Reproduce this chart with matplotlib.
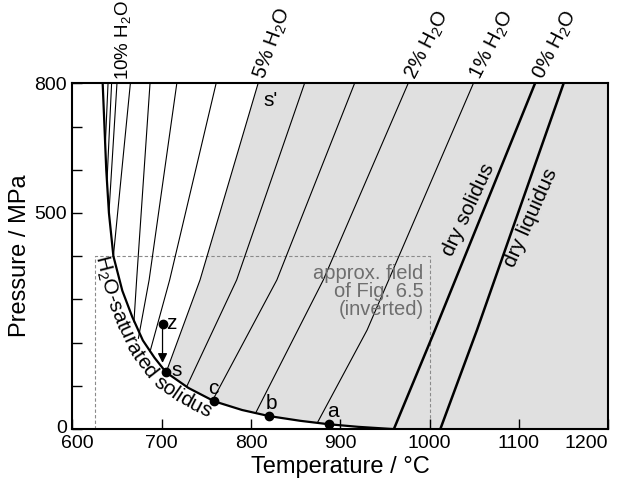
import numpy as np
import matplotlib
matplotlib.use('Agg')
import matplotlib.pyplot as plt
import matplotlib.transforms as mtransforms

plt.rcParams['font.family'] = ['Liberation Sans', 'DejaVu Sans']
plt.rcParams['mathtext.fontset'] = 'custom'
plt.rcParams['mathtext.rm'] = 'Liberation Sans'
plt.rcParams['mathtext.it'] = 'Liberation Sans:italic'

# H2O-saturated solidus (T in degC, P in MPa)
sol_T = [634, 636, 638, 641, 646, 656, 667, 679, 692, 705, 730, 759, 790, 820, 855, 887, 920, 958]
sol_P = [800, 700, 600, 500, 400, 320, 260, 205, 165, 131, 95, 64, 44, 30, 19, 11, 5, 0]

# water isopleths (wt% H2O in melt), from the saturated solidus up to 800 MPa
iso_wt = [12, 11, 10, 9, 8, 7, 6, 5, 4, 3, 2, 1]
iso_T = [
    [637, 640],
    [639, 644],
    [641, 650],
    [646, 665],
    [669, 672, 687],
    [674, 686, 717],
    [687, 709, 761],
    [705, 743, 808],
    [728, 784, 860],
    [757, 829, 916],
    [806, 881, 976],
    [875, 930, 1049],
]
iso_P = [
    [660, 800],
    [580, 800],
    [500, 800],
    [400, 800],
    [248, 345, 800],
    [210, 345, 800],
    [179, 345, 800],
    [131, 345, 800],
    [98, 345, 800],
    [66, 345, 800],
    [40, 345, 800],
    [17, 229, 800],
]
labelled_wt = [10, 5, 2, 1]

# dry solidus (0% H2O) and dry liquidus
dry_sol_T = [960, 1006, 1118]
dry_sol_P = [0, 229, 800]
dry_liq_T = [1012, 1053, 1150]
dry_liq_P = [0, 229, 800]

# named points
pt_names = ['z', 's', 'c', 'b', 'a']
pt_T = [701, 705, 759, 820, 887]
pt_P = [243, 131, 64, 30, 12]

# approx. field of Fig. 6.5
field_T = [625, 1000]
field_P = [0, 400]

fig = plt.figure(figsize=(6.19, 4.86), dpi=100)
ax = fig.add_axes([72.3 / 619, 1 - 429 / 486, 536 / 619, 345.7 / 486])
ax.set_xlim(600, 1200)
ax.set_ylim(0, 800)

# grey field: right of the 5% isopleth, above the saturated solidus
i5 = iso_wt.index(5)
i_s = sol_T.index(iso_T[i5][0])
poly_T = iso_T[i5] + [1200, 1200] + sol_T[i_s:][::-1]
poly_P = iso_P[i5] + [800, 0] + sol_P[i_s:][::-1]
ax.fill(poly_T, poly_P, color='#e0e0e0', lw=0, zorder=0)

for T, P in zip(iso_T, iso_P):
    ax.plot(T, P, color='black', lw=0.8, zorder=2)
ax.plot(sol_T, sol_P, color='black', lw=1.6, zorder=3)
ax.plot(dry_sol_T, dry_sol_P, color='black', lw=1.8, zorder=3)
ax.plot(dry_liq_T, dry_liq_P, color='black', lw=1.8, zorder=3)
ax.text(1043, 507, 'dry solidus', fontsize=15, rotation=65, ha='center', va='center',
        rotation_mode='anchor')
ax.text(1113, 488, 'dry liquidus', fontsize=15, rotation=66, ha='center', va='center',
        rotation_mode='anchor')

# dashed box
ax.plot([field_T[0], field_T[0], field_T[1], field_T[1]],
        [field_P[0], field_P[1], field_P[1], field_P[0]],
        ls=(0, (3, 2)), color='#8a8a8a', lw=0.8, zorder=1)
ax.text(993, 318, 'approx. field\nof Fig. 6.5\n(inverted)', color='#6e6e6e',
        fontsize=14.5, ha='right', va='center', multialignment='right', linespacing=0.95)

# isopleth labels above the frame
for wt, T, P in zip(iso_wt, iso_T, iso_P):
    if wt in labelled_wt:
        if wt == 10:
            ax.annotate('%d%% H$_2$O' % wt, xy=(T[-1], P[-1]), xytext=(6, 3),
                        textcoords='offset pixels', rotation=90, rotation_mode='anchor',
                        ha='left', va='center', fontsize=13.5, annotation_clip=False)
        else:
            rot = 70 if wt == 5 else 63
            ax.annotate('%d%% H$_2$O' % wt, xy=(T[-1], P[-1]), xytext=(7, 3),
                        textcoords='offset pixels', rotation=rot, rotation_mode='anchor',
                        ha='left', va='baseline', fontsize=14.5, annotation_clip=False)
ax.annotate('0% H$_2$O', xy=(dry_sol_T[-1], dry_sol_P[-1]), xytext=(8, 3),
            textcoords='offset pixels', rotation=63, rotation_mode='anchor',
            ha='left', va='baseline', fontsize=14.5, annotation_clip=False)

# points
ax.plot(pt_T, pt_P, 'o', color='black', ms=6, zorder=5)
offs = {'z': (9, 0), 's': (11, 2), 'c': (-1, 13), 'b': (3, 13), 'a': (4, 12)}
for n, T, P in zip(pt_names, pt_T, pt_P):
    ax.annotate(n, xy=(T, P), xytext=offs[n], textcoords='offset pixels',
                ha='center', va='center', fontsize=15)
ax.annotate("s'", xy=(iso_T[i5][-1], iso_P[i5][-1]), xytext=(12, -17),
            textcoords='offset pixels', ha='center', va='center', fontsize=15)
ax.annotate('', xy=(pt_T[1] - 4, pt_P[1] + 22), xytext=(pt_T[0], pt_P[0]),
            arrowprops=dict(arrowstyle='-|>', color='black', lw=0.9,
                            mutation_scale=14, shrinkA=3, shrinkB=0))

# curved label along the saturated solidus
renderer = fig.canvas.get_renderer()
xy = ax.transData.transform(np.column_stack([sol_T, sol_P]))
seg = np.hypot(np.diff(xy[:, 0]), np.diff(xy[:, 1]))
arc = np.concatenate([[0], np.cumsum(seg)])
fine = np.linspace(0, arc[-1], 3000)
cx = np.interp(fine, arc, xy[:, 0])
cy = np.interp(fine, arc, xy[:, 1])
kern = np.ones(81) / 81
tx = np.convolve(np.gradient(cx), kern, mode='same')
ty = np.convolve(np.gradient(cy), kern, mode='same')
tn = np.hypot(tx, ty)
tx, ty = tx / tn, ty / tn
off = 18
ox = cx + ty * off
oy = cy - tx * off
arc2 = np.concatenate([[0], np.cumsum(np.hypot(np.diff(ox), np.diff(oy)))])


def measure(s):
    t = fig.text(0, 0, s, fontsize=15)
    w = t.get_window_extent(renderer).width
    t.remove()
    return w


chunks = ['H$_2$O'] + list('-saturated solidus')
k0 = np.argmin(np.abs(np.interp(fine, arc, sol_P) - 405))
pos = arc2[k0]
for ch in chunks:
    w = measure(ch) if ch != ' ' else measure('a a') - measure('aa')
    k = int(np.clip(np.searchsorted(arc2, pos + w / 2), 0, len(fine) - 1))
    ang = np.degrees(np.arctan2(ty[k], tx[k]))
    if ch.strip():
        fig.text(ox[k] / fig.bbox.width, oy[k] / fig.bbox.height, ch,
                 fontsize=15, rotation=ang, rotation_mode='anchor',
                 ha='center', va='baseline')
    pos += w

ax.set_xticks(range(600, 1201, 100))
ax.set_yticks(range(0, 801, 100))
ax.set_yticklabels(['0', '', '', '', '', '500', '', '', '800'])
ax.tick_params(direction='in', length=7, width=1, labelsize=14, pad=4)
xl = ax.get_xticklabels()
xl[0].set_transform(xl[0].get_transform() + mtransforms.ScaledTranslation(0.05, 0, fig.dpi_scale_trans))
xl[-1].set_horizontalalignment('right')
yl = ax.get_yticklabels()
yl[0].set_transform(yl[0].get_transform() + mtransforms.ScaledTranslation(0, 0.03, fig.dpi_scale_trans))
for sp in ax.spines.values():
    sp.set_linewidth(1.5)
ax.set_xlabel('Temperature / °C', fontsize=17, labelpad=3)
ax.set_ylabel('Pressure / MPa', fontsize=17, labelpad=2)

fig.savefig('out.png', dpi=100)
